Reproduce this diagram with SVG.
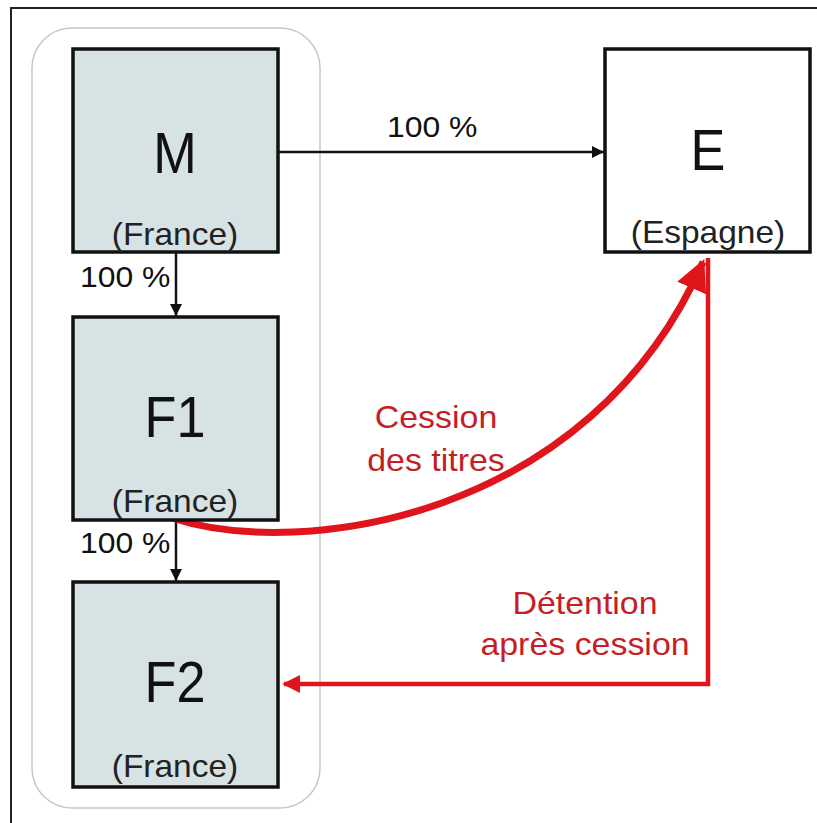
<svg xmlns="http://www.w3.org/2000/svg" width="817" height="823" viewBox="0 0 817 823">
<defs>
<style>
.box{stroke:#111;stroke-width:3.5}
.co{fill:#d6e2e3}
text{font-family:"Liberation Sans",Arial,sans-serif}
.big{font-size:58px;fill:#111;text-anchor:middle}
.sub{font-size:31px;fill:#222;text-anchor:middle}
.pct{font-size:29px;fill:#111}
.rt{font-size:32px;fill:#c41f26;text-anchor:middle}
</style>
<marker id="ab" viewBox="0 0 10 10" refX="10" refY="5" markerWidth="12" markerHeight="12" markerUnits="userSpaceOnUse" orient="auto"><path d="M0,0L10,5L0,10z" fill="#111"/></marker>
<marker id="ar" viewBox="0 0 10 10" refX="9" refY="5" markerWidth="4.5" markerHeight="4.5" orient="auto"><path d="M0,0L10,5L0,10z" fill="#e0141b"/></marker>
<marker id="ar2" viewBox="0 0 10 10" refX="9" refY="5" markerWidth="4" markerHeight="4" orient="auto"><path d="M0,0L10,5L0,10z" fill="#e0141b"/></marker>
</defs>
<rect width="817" height="823" fill="#fff"/>
<path d="M11,823V8H817" fill="none" stroke="#222" stroke-width="2"/>
<rect x="32" y="28" width="288" height="780" rx="40" fill="none" stroke="#c8c8c8" stroke-width="1.5"/>
<g id="connectors">
<line x1="176" y1="252" x2="176" y2="316" stroke="#111" stroke-width="2.5" marker-end="url(#ab)"/>
<line x1="176" y1="520" x2="176" y2="581" stroke="#111" stroke-width="2.5" marker-end="url(#ab)"/>
<line x1="278" y1="152" x2="604" y2="152" stroke="#111" stroke-width="2.5" marker-end="url(#ab)"/>
<path d="M172,518C300,560 590,520 703,262" fill="none" stroke="#e0141b" stroke-width="7" marker-end="url(#ar)"/>
<path d="M708,258V684H284" fill="none" stroke="#e0141b" stroke-width="4.5" marker-end="url(#ar2)"/>
<text class="pct" transform="translate(387,137) scale(1.1,1)">100 %</text>
<text class="pct" transform="translate(80,287) scale(1.1,1)">100 %</text>
<text class="pct" transform="translate(80,553) scale(1.1,1)">100 %</text>
<text class="rt" transform="translate(436,428) scale(1.06,1)">Cession</text>
<text class="rt" transform="translate(436,471) scale(1.06,1)">des titres</text>
<text class="rt" transform="translate(585,614) scale(1.06,1)">Détention</text>
<text class="rt" transform="translate(585,655) scale(1.06,1)">après cession</text>
</g>
<g id="M"><rect class="box co" x="73" y="49" width="205" height="203"/><text class="big" transform="translate(175,173) scale(0.9,1)">M</text><text class="sub" transform="translate(175,245) scale(1.08,1)">(France)</text></g>
<g id="F1"><rect class="box co" x="73" y="317" width="205" height="203"/><text class="big" transform="translate(175,437) scale(0.9,1)">F1</text><text class="sub" transform="translate(175,512) scale(1.08,1)">(France)</text></g>
<g id="F2"><rect class="box co" x="73" y="582" width="205" height="205"/><text class="big" transform="translate(175,702) scale(0.9,1)">F2</text><text class="sub" transform="translate(175,777) scale(1.08,1)">(France)</text></g>
<g id="E"><rect class="box" fill="#fff" x="605" y="49" width="205" height="203"/><text class="big" transform="translate(708,170) scale(0.9,1)">E</text><text class="sub" transform="translate(708,243) scale(1.08,1)">(Espagne)</text></g>
</svg>
